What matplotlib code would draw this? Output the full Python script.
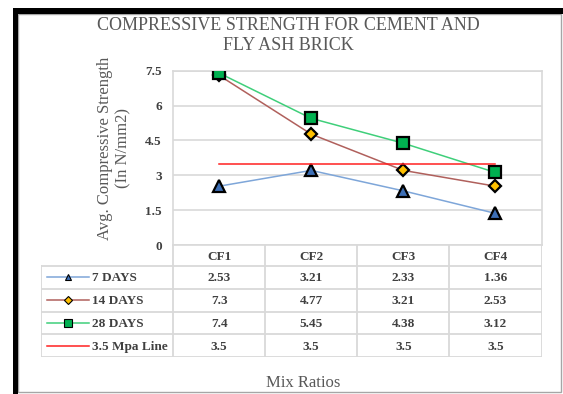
"""
Compressive strength for cement and fly ash brick, line chart with a data table underneath.
"""

import matplotlib

matplotlib.use("Agg")
import matplotlib.pyplot as plt
from matplotlib.patches import Rectangle


# ---- data ------------------------------------------------------------------
MIX_RATIOS = ["CF1", "CF2", "CF3", "CF4"]
SERIES_NAMES = ["7 DAYS", "14 DAYS", "28 DAYS", "3.5 Mpa Line"]
DAYS_7 = [2.53, 3.21, 2.33, 1.36]
DAYS_14 = [7.3, 4.77, 3.21, 2.53]
DAYS_28 = [7.4, 5.45, 4.38, 3.12]
MPA_LINE = [3.5, 3.5, 3.5, 3.5]
VALUE_LABELS = [
    ["2.53", "3.21", "2.33", "1.36"],
    ["7.3", "4.77", "3.21", "2.53"],
    ["7.4", "5.45", "4.38", "3.12"],
    ["3.5", "3.5", "3.5", "3.5"],
]
Y_TICKS = [0, 1.5, 3, 4.5, 6, 7.5]
Y_TICK_LABELS = ["0", "1.5", "3", "4.5", "6", "7.5"]

# ---- styles ----------------------------------------------------------------
W, H = 563, 394
DPI = 100
SERIF = ["Liberation Serif", "DejaVu Serif"]
GRID = "#d9d9d9"
TEXT_DARK = "#404040"
TEXT_GRAY = "#595959"

STYLES = [
    dict(color="#7ea6d9", marker="^", mfc="#3d6fb6", ms=9),
    dict(color="#b0605c", marker="D", mfc="#ffc000", ms=6.5),
    dict(color="#3fcf7a", marker="s", mfc="#00b050", ms=8.5),
    dict(color="#ff2020", marker=None, mfc="none", ms=0),
]
LEGEND_MS = [5, 4, 6, 0]


def fx(px):
    return px / W


def fy(py):
    return 1 - py / H


plt.rcParams["font.family"] = SERIF
fig = plt.figure(figsize=(W / DPI, H / DPI), dpi=DPI)
fig.patch.set_facecolor("white")

# outer frame of the screenshot
fig.patches.append(Rectangle((fx(18), fy(392)), fx(561) - fx(18), fy(14) - fy(392),
                             transform=fig.transFigure, fill=False, edgecolor="#a6a6a6",
                             linewidth=1.0))
fig.patches.append(Rectangle((fx(13), fy(14)), fx(563) - fx(13), fy(8) - fy(14),
                             transform=fig.transFigure, facecolor="black", edgecolor="none"))
fig.patches.append(Rectangle((fx(13), fy(394)), fx(18) - fx(13), fy(8) - fy(394),
                             transform=fig.transFigure, facecolor="black", edgecolor="none"))

# ---- chart -----------------------------------------------------------------
PLOT_L, PLOT_R, PLOT_T, PLOT_B = 173, 541.5, 70.7, 245
ax = fig.add_axes([fx(PLOT_L), fy(PLOT_B), fx(PLOT_R) - fx(PLOT_L), fy(PLOT_T) - fy(PLOT_B)])
positions = [i + 0.5 for i in range(len(MIX_RATIOS))]
all_series = [DAYS_7, DAYS_14, DAYS_28, MPA_LINE]
for values, style in zip(all_series, STYLES):
    ax.plot(positions, values, color=style["color"], linewidth=1.1,
            marker=style["marker"], markersize=style["ms"],
            markerfacecolor=style["mfc"], markeredgecolor="black",
            markeredgewidth=1.6, zorder=3)

ax.set_xlim(0, len(MIX_RATIOS))
ax.set_ylim(0, 7.5)
ax.set_xticks([])
ax.set_yticks(Y_TICKS)
ax.set_yticklabels(Y_TICK_LABELS, fontsize=9.5, fontweight="bold", color=TEXT_DARK)
ax.tick_params(axis="y", length=0, pad=8)
ax.grid(axis="y", color=GRID, linewidth=1.2)
ax.set_axisbelow(True)
for side in ["left", "right", "bottom", "top"]:
    ax.spines[side].set_color(GRID)
    ax.spines[side].set_linewidth(1.2)
ax.patch.set_alpha(0)

# ---- data table ------------------------------------------------------------
TAB_L, TAB_T, TAB_B = 40.7, PLOT_B, 357.3
COL_W = (PLOT_R - PLOT_L) / len(MIX_RATIOS)
LEG_W = (PLOT_L - TAB_L) / COL_W
ROW_PX = (TAB_B - 266) / len(SERIES_NAMES)
HEAD_H = (266 - TAB_T) / ROW_PX

tab = fig.add_axes([fx(TAB_L), fy(TAB_B), fx(PLOT_R) - fx(TAB_L), fy(TAB_T) - fy(TAB_B)])
tab.set_xlim(-LEG_W, len(MIX_RATIOS))
tab.set_ylim(len(SERIES_NAMES), -HEAD_H)
tab.axis("off")

n_rows = len(SERIES_NAMES)
for r in range(n_rows + 1):
    tab.plot([-LEG_W, len(MIX_RATIOS)], [r, r], color=GRID, linewidth=1.3)
tab.plot([-LEG_W, -LEG_W], [0, n_rows], color=GRID, linewidth=1.3)
for c in range(len(MIX_RATIOS) + 1):
    tab.plot([c, c], [-HEAD_H, n_rows], color=GRID, linewidth=1.3)

for c, label in enumerate(MIX_RATIOS):
    tab.text(c + 0.5, -HEAD_H / 2 + 0.05, label, ha="center", va="center",
             fontsize=9.5, fontweight="bold", color=TEXT_DARK)

sample_x0 = -LEG_W + 6 / COL_W
sample_x1 = -LEG_W + 48 / COL_W
label_x = -LEG_W + 51 / COL_W
for r, (name, style) in enumerate(zip(SERIES_NAMES, STYLES)):
    yc = r + 0.5
    tab.plot([sample_x0, sample_x1], [yc, yc], color=style["color"], linewidth=1.1)
    if style["marker"]:
        tab.plot([(sample_x0 + sample_x1) / 2], [yc], marker=style["marker"],
                 markersize=LEGEND_MS[r], markerfacecolor=style["mfc"],
                 markeredgecolor="black", markeredgewidth=0.8, linestyle="none")
    tab.text(label_x, yc + 0.03, name, ha="left", va="center",
             fontsize=9.5, fontweight="bold", color=TEXT_DARK)
    for c, value in enumerate(VALUE_LABELS[r]):
        tab.text(c + 0.5, yc + 0.03, value, ha="center", va="center",
                 fontsize=9.5, fontweight="bold", color=TEXT_DARK)

# ---- titles ----------------------------------------------------------------
fig.text(fx(288), fy(35.5), "COMPRESSIVE STRENGTH FOR CEMENT AND\nFLY ASH BRICK",
         ha="center", va="center", fontsize=13, color=TEXT_GRAY, linespacing=1.25)
fig.text(fx(114), fy(148), "Avg. Compressive Strength\n(In N/mm2)", rotation=90,
         ha="center", va="center", fontsize=12, color=TEXT_GRAY,
         multialignment="center", linespacing=1.15)
fig.text(fx(303), fy(383), "Mix Ratios", ha="center", va="center",
         fontsize=12, color=TEXT_GRAY)

fig.savefig("out.png", dpi=DPI, facecolor="white")
